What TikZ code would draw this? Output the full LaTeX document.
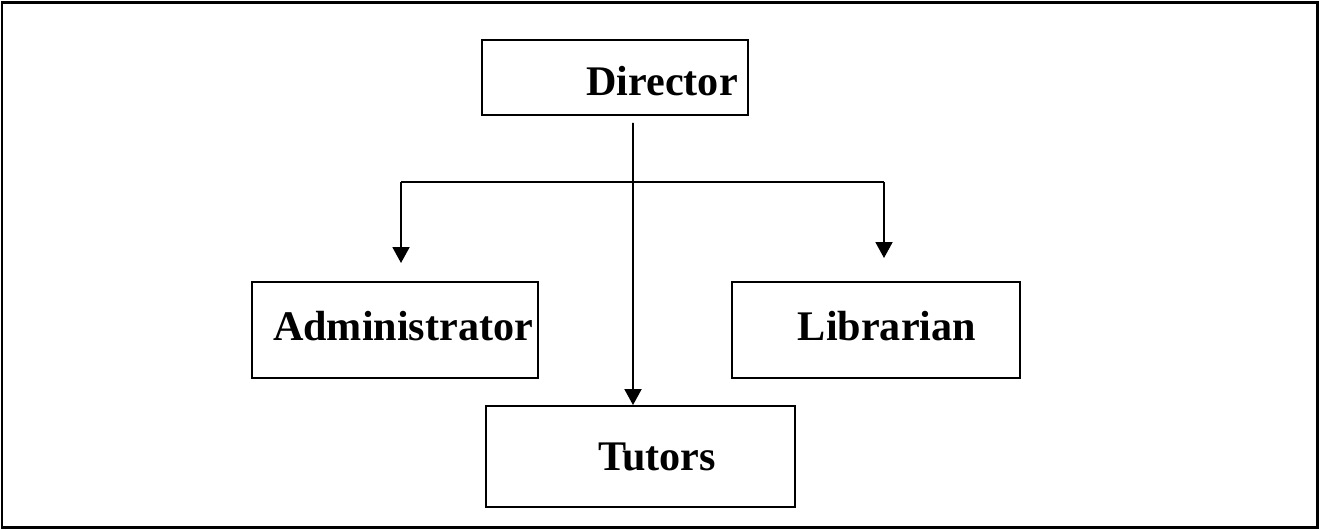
\documentclass[tikz,border=0pt]{standalone}
\usepackage{fontspec}
\setmainfont{Liberation Serif}
\usetikzlibrary{arrows.meta}
\begin{document}
\begin{tikzpicture}[x=0.02cm, y=-0.02cm,
    orgbox/.style={draw, line width=1.1pt, inner sep=0pt, minimum height=1.92cm},
    orgtext/.style={anchor=base, font=\fontsize{24}{28}\selectfont\bfseries},
    link/.style={line width=1.1pt},
    >={Triangle[length=0.32cm,width=0.34cm]}]
  \useasboundingbox (0,0) rectangle (1319,529);
  % Outer frame
  \draw[line width=1.7pt] (2,2) rectangle (1317,527);

  % Boxes
  \node[orgbox, minimum width=5.32cm, minimum height=1.5cm] (dir) at (615,77.5) {};
  \node[orgbox, minimum width=5.72cm] (adm) at (395,330) {};
  \node[orgbox, minimum width=5.76cm] (lib) at (876,330) {};
  \node[orgbox, minimum width=6.18cm, minimum height=2.02cm] (tut) at (640.5,456.5) {};

  % Labels
  \node[orgtext] (dirlbl) at (662,95) {Director};
  \node[orgtext] (admlbl) at (403,340) {Administrator};
  \node[orgtext] (liblbl) at (887,340) {Librarian};
  \node[orgtext] (tutlbl) at (657,470) {Tutors};

  % Connectors
  \coordinate (busL) at (401,182);
  \coordinate (busR) at (884,182);
  \draw[link] (busL) -- (busR);
  \draw[link, ->] (busL) -- ++(0,81);
  \draw[link, ->] (busR) -- ++(0,76);
  \draw[link, ->] ([xshift=0.36cm, yshift=-0.14cm]dir.south) -- ([xshift=-0.15cm]tut.north);
\end{tikzpicture}
\end{document}
